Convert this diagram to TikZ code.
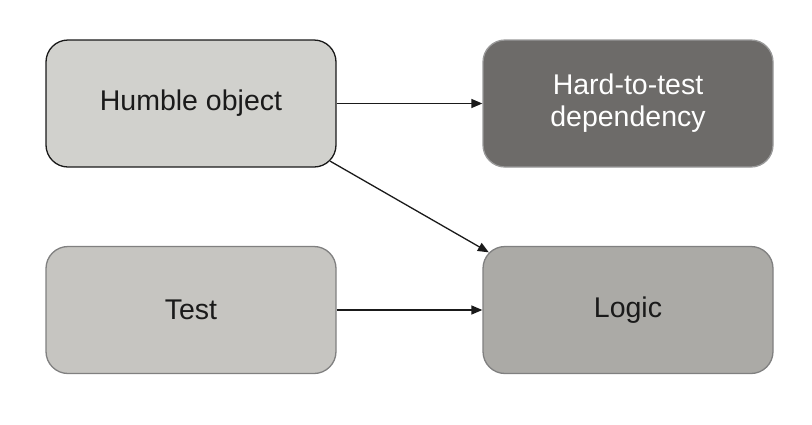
\documentclass[tikz,border=0pt]{standalone}
\usepackage{fontspec}
\setmainfont{Liberation Sans}
\usetikzlibrary{arrows.meta,calc}
\definecolor{humblefill}{HTML}{D1D1CD}
\definecolor{hardfill}{HTML}{6D6B69}
\definecolor{testfill}{HTML}{C6C5C1}
\definecolor{logicfill}{HTML}{ABAAA6}
\definecolor{softborder}{HTML}{808080}
\definecolor{inktext}{HTML}{1A1A1A}
\tikzset{
  box/.style={rectangle, rounded corners=22pt, minimum width=290pt, minimum height=127pt,
    line width=1.3pt, align=center, font=\fontsize{28.5}{32}\selectfont, text=inktext},
  conn/.style={-{Triangle[length=11pt,width=9pt]}, line width=1.3pt, draw=inktext}
}
\begin{document}
\begin{tikzpicture}[x=1pt,y=-1pt]
\useasboundingbox (0,0) rectangle (812,424);
\node[box, fill=humblefill, draw=inktext] (humble) at (191,103.5) {Humble object};
\node[box, fill=hardfill, draw=softborder!80!white, text=white] (hard) at (628,103.5) {Hard-to-test\\dependency};
\node[box, fill=testfill, draw=softborder] (test) at (191,310) {Test};
\node[box, fill=logicfill, draw=softborder] (logic) at (628,310) {Logic};
\draw[conn] (humble.east) -- (hard.west);
\draw[conn] (test.east) -- (logic.west);
\draw[conn] ($(humble.south east)+(-6.5,-6.5)$) -- ($(logic.north west)+(6.5,6.5)$);
\end{tikzpicture}
\end{document}
